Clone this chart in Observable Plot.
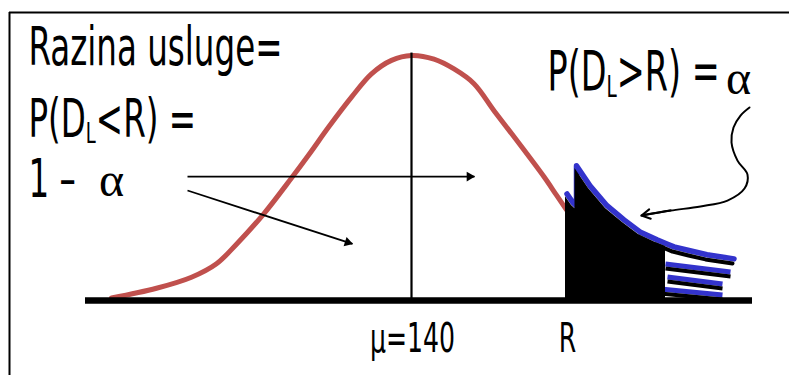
<!DOCTYPE html>
<html><head><meta charset="utf-8">
<script src="https://cdn.jsdelivr.net/npm/d3@7"></script>
<script src="https://cdn.jsdelivr.net/npm/@observablehq/plot@0.6"></script>
<style>html,body{margin:0;padding:0;background:#fff;} #chart svg{display:block;}</style>
</head><body><div id="chart"></div>
<script>
// ---- data (x: demand units, y: relative density, peak = 1) ----
const mu = 140;
const R = 171;
const curveX = [80, 89, 96, 101, 105, 110.5, 116, 119.5, 123.5, 128, 132, 136, 140, 144.5, 148.5, 152.5, 156.5, 161, 166.5, 169, 171];
const curveY = [0.01, 0.05, 0.095, 0.15, 0.23, 0.355, 0.5, 0.596, 0.71, 0.83, 0.925, 0.98, 1.0, 0.985, 0.945, 0.885, 0.775, 0.655, 0.505, 0.43, 0.37];
const tailX = [170.8, 172.0, 172.7, 172.7, 175.4, 178.8, 182.2, 185.4, 188.8, 190.8, 192.2, 195.4, 198.8, 204.2];
const tailY = [0.424, 0.388, 0.375, 0.539, 0.457, 0.376, 0.318, 0.269, 0.237, 0.22, 0.208, 0.192, 0.176, 0.159];
const bandX1 = [190.8, 191.2, 189.8];
const bandY1 = [0.139, 0.086, 0.037];
const bandX2 = [203.8, 202.2, 202.2];
const bandY2 = [0.106, 0.057, 0.012];
const arrowX1 = [95.2, 95.2];
const arrowY1 = [0.506, 0.449];
const arrowX2 = [152.6, 128.2];
const arrowY2 = [0.506, 0.231];
const curlyX = [207.6, 205.8, 204.4, 204.0, 205.2, 207.2, 206.6, 203.2, 197.8, 191.8, 186.0];
const curlyY = [0.788, 0.755, 0.706, 0.645, 0.571, 0.514, 0.457, 0.408, 0.384, 0.367, 0.347];
const tickValues = [mu, R];
const tickLabels = ["μ=140", "R"];
const leftLabels = ["Razina usluge=", "P(D_L<R) =", "1 –"];
const rightLabel = "P(D_L>R) =";
const alphaLabel = "α";

// ---- layout ----
const W = 789, H = 375;
const xDomain = [57.8, 215.6];
const yDomain = [-0.306, 1.2245];
const xs = d3.scaleLinear(xDomain, [0, W]);
const ys = d3.scaleLinear(yDomain, [H, 0]);
const RED = "#c0504d", BLUE = "#3333cc";
const NARROW = "Liberation Sans Narrow, DejaVu Sans Condensed, Arial Narrow, sans-serif";
const SERIF = "Liberation Serif, DejaVu Serif, serif";

const curve = curveX.map((x, i) => ({x, y: curveY[i]}));
const tail = tailX.map((x, i) => ({x, y: tailY[i]}));
const bands = d3.range(bandX1.length);
const curly = curlyX.map((x, i) => ({x, y: curlyY[i]}));
const n = curly.length;

const arrowMarks = d3.range(arrowX1.length).flatMap(i => {
  const a = Math.atan2(ys(arrowY2[i]) - ys(arrowY1[i]), xs(arrowX2[i]) - xs(arrowX1[i]));
  return [
    Plot.link([i], {x1: j => arrowX1[j], y1: j => arrowY1[j], x2: j => arrowX2[j], y2: j => arrowY2[j], stroke: "black", strokeWidth: 1.8}),
    Plot.dot([i], {x: j => arrowX2[j], y: j => arrowY2[j], symbol: "triangle", r: 3.6, fill: "black", stroke: "none",
      rotate: a * 180 / Math.PI + 90, dx: -5 * Math.cos(a), dy: -5 * Math.sin(a)})
  ];
});

const svg = Plot.plot({
  width: W, height: H,
  marginTop: 0, marginRight: 0, marginBottom: 0, marginLeft: 0,
  style: {background: "white"},
  x: {domain: xDomain, axis: null},
  y: {domain: yDomain, axis: null},
  marks: [
    // frame (left and top edges)
    Plot.ruleX([59.6], {y1: yDomain[0], y2: 1.1755, stroke: "black", strokeWidth: 2}),
    Plot.ruleY([1.1755], {x1: 59.6, x2: xDomain[1], stroke: "black", strokeWidth: 2}),
    // density curve
    Plot.line(curve, {x: "x", y: "y", stroke: RED, strokeWidth: 5, curve: "catmull-rom"}),
    // tail (alpha area)
    Plot.line(tail, {x: "x", y: "y", stroke: BLUE, strokeWidth: 5.5, dx: 1.5, dy: -2.7}),
    Plot.link(bands, {x1: i => bandX1[i], y1: i => bandY1[i], x2: i => bandX2[i], y2: i => bandY2[i], stroke: BLUE, strokeWidth: 5, dy: -2.5}),
    Plot.areaY(tail.filter(d => d.x <= 190.8), {x: "x", y1: 0, y2: "y", fill: "black"}),
    Plot.line(tail.filter(d => d.x >= 188.8), {x: "x", y: "y", stroke: "black", strokeWidth: 4, dy: 2}),
    Plot.link(bands, {x1: i => bandX1[i], y1: i => bandY1[i], x2: i => bandX2[i], y2: i => bandY2[i], stroke: "black", strokeWidth: 4, dy: 2}),
    // baseline and mean line
    Plot.ruleY([0], {x1: 74.8, x2: 208.2, stroke: "black", strokeWidth: 6.5}),
    Plot.ruleX([mu], {y1: 0, y2: 1.01, stroke: "black", strokeWidth: 2.2}),
    // arrows
    ...arrowMarks,
    Plot.line(curly, {x: "x", y: "y", stroke: "black", strokeWidth: 2, curve: "catmull-rom"}),
    Plot.arrow([0], {x1: () => curly[n - 2].x, y1: () => curly[n - 2].y, x2: () => curly[n - 1].x, y2: () => curly[n - 1].y,
      stroke: "black", strokeWidth: 2, headLength: 16, headAngle: 58}),
    // texts
    Plot.text(leftLabels, {x: () => 63.4, y: [1.029, 0.737, 0.49], text: d => d, textAnchor: "start",
      fontFamily: NARROW, fontSize: 53, fill: "black"}),
    Plot.text([rightLabel], {x: () => 167.2, y: () => 0.931, text: d => d, textAnchor: "start",
      fontFamily: NARROW, fontSize: 54.5, fill: "black"}),
    Plot.text([alphaLabel, alphaLabel], {x: [80.0, 205.4], y: [0.49, 0.905], text: d => d, textAnchor: "middle",
      fontFamily: SERIF, fontSize: 48, fill: "black"}),
    Plot.text(tickLabels, {x: (d, i) => tickValues[i], y: () => -0.157, text: d => d, textAnchor: "middle", dx: 1,
      fontFamily: NARROW, fontSize: 41, fill: "black"})
  ]
});
document.getElementById("chart").append(svg);

// subscripts (D_L)
const NS = "http://www.w3.org/2000/svg";
svg.querySelectorAll("text").forEach(t => {
  const s = t.textContent;
  if (!s.includes("_L")) return;
  const [a, b] = s.split("_L");
  const fs = parseFloat(getComputedStyle(t).fontSize);
  const shift = Math.round(fs * 0.12);
  t.textContent = a;
  const sub = document.createElementNS(NS, "tspan");
  sub.setAttribute("font-size", (fs * 0.55).toFixed(1));
  sub.setAttribute("dy", shift);
  sub.textContent = "L";
  const rest = document.createElementNS(NS, "tspan");
  rest.setAttribute("dy", -shift);
  rest.textContent = b;
  t.append(sub, rest);
});

// condense the narrow labels horizontally
const narrow = [...svg.querySelectorAll('g[font-family*="Narrow"] text')];
const refText = narrow.find(t => t.textContent === "Razina usluge=");
const k = refText ? 254 / refText.getBBox().width : 0.8;
narrow.forEach(t => {
  const tr = t.getAttribute("transform");
  if (tr) t.setAttribute("transform", tr + ` scale(${k},1)`);
  else {
    const x = +t.getAttribute("x") || 0, y = +t.getAttribute("y") || 0;
    t.removeAttribute("x"); t.removeAttribute("y");
    t.setAttribute("transform", `translate(${x},${y}) scale(${k},1)`);
  }
});
</script>
</body></html>
